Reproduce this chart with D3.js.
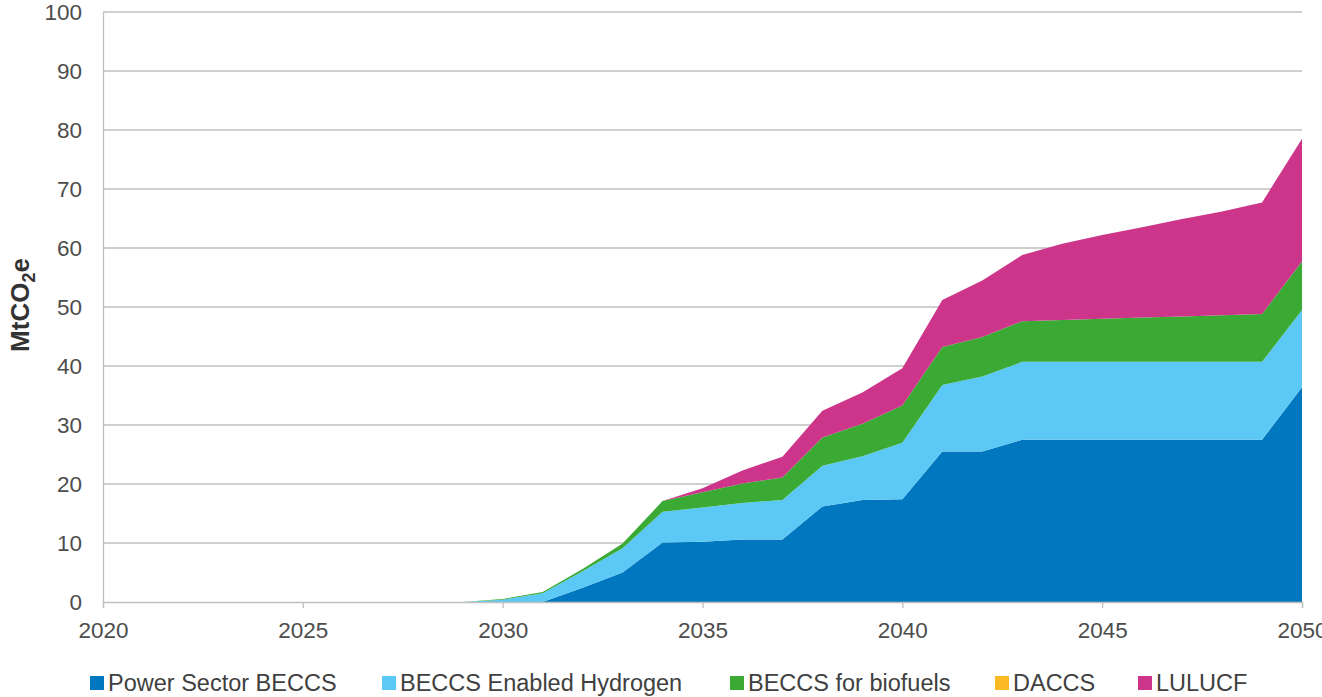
<!DOCTYPE html>
<html>
<head>
<meta charset="utf-8">
<script src="https://cdn.jsdelivr.net/npm/d3@7"></script>
<style>
  html, body { margin: 0; padding: 0; background: #fff; overflow: hidden; }
  svg { display: block; font-family: "Liberation Sans", Arial, sans-serif; }
</style>
</head>
<body>
<svg id="chart" width="1322" height="697"></svg>
<script>
// Years 2020–2050
const years = d3.range(2020, 2051);

// Annual removals by source, MtCO2e (2020 … 2050)
const powerBECCS = [0,0,0,0,0,0,0,0,0,0, 0,0,2.4,5.0,10.1,10.2,10.6,10.6,16.2,17.3, 17.4,25.5,25.5,27.5,27.5,27.5,27.5,27.5,27.5,27.5, 36.4];
const hydrogenBECCS = [0,0,0,0,0,0,0,0,0,0, 0.4,1.5,2.8,4.1,5.2,5.8,6.2,6.7,6.9,7.4, 9.6,11.3,12.7,13.2,13.2,13.2,13.2,13.2,13.2,13.2, 13.1];
const biofuelsBECCS = [0,0,0,0,0,0,0,0,0,0, 0.1,0.2,0.4,0.8,1.8,2.6,3.3,3.8,4.8,5.5, 6.3,6.4,6.7,6.9,7.1,7.3,7.5,7.7,7.9,8.1, 8.2];
const daccs = [0,0,0,0,0,0,0,0,0,0, 0,0,0,0,0,0,0,0,0,0, 0,0,0,0,0,0,0,0,0,0, 0];
const lulucf = [0,0,0,0,0,0,0,0,0,0, 0,0,0,0,0,0.7,2.2,3.5,4.5,5.3, 6.3,8.0,9.6,11.2,12.9,14.2,15.3,16.5,17.6,18.9, 20.8];

const seriesNames = ["Power Sector BECCS", "BECCS Enabled Hydrogen", "BECCS for biofuels", "DACCS", "LULUCF"];
const seriesValues = [powerBECCS, hydrogenBECCS, biofuelsBECCS, daccs, lulucf];
const seriesColors = ["#0077be", "#5bc8f5", "#3aaa35", "#fbb923", "#cc3589"];

const yTicks = [0, 10, 20, 30, 40, 50, 60, 70, 80, 90, 100];
const xTicks = [2020, 2025, 2030, 2035, 2040, 2045, 2050];

const svg = d3.select("#chart");
const plot = { left: 103, right: 1302, top: 12, bottom: 602 };

const x = d3.scaleLinear().domain([2020, 2050]).range([plot.left, plot.right]);
const y = d3.scaleLinear().domain([0, 100]).range([plot.bottom, plot.top]);

const textColor = "#4d4d4d";
const gridColor = "#bfbfbf";
const tickFont = "22.5px";

// Horizontal gridlines
svg.append("g")
  .selectAll("line")
  .data(yTicks.filter(d => d > 0))
  .join("line")
  .attr("x1", plot.left).attr("x2", plot.right)
  .attr("y1", d => y(d)).attr("y2", d => y(d))
  .attr("stroke", gridColor).attr("stroke-width", 1.3);

// Stacked areas
const rows = years.map((yr, i) => {
  const r = { year: yr };
  seriesNames.forEach((n, k) => { r[n] = seriesValues[k][i]; });
  return r;
});
const stack = d3.stack().keys(seriesNames);
const layers = stack(rows);

const area = d3.area()
  .x(d => x(d.data.year))
  .y0(d => y(d[0]))
  .y1(d => y(d[1]));

svg.append("g")
  .selectAll("path")
  .data(layers)
  .join("path")
  .attr("d", area)
  .attr("fill", (d, i) => seriesColors[i]);

// Y axis
const yAxis = svg.append("g")
  .attr("transform", `translate(${plot.left},0)`)
  .call(d3.axisLeft(y).tickValues(yTicks).tickSize(0).tickPadding(21));
yAxis.select(".domain").attr("stroke", gridColor).attr("stroke-width", 1.3);
yAxis.selectAll("text").attr("fill", textColor).style("font-size", tickFont);

// X axis
const xAxis = svg.append("g")
  .attr("transform", `translate(0,${plot.bottom})`)
  .call(d3.axisBottom(x).tickValues(xTicks).tickFormat(d3.format("d")).tickSize(6).tickPadding(14));
xAxis.select(".domain").attr("stroke", gridColor).attr("stroke-width", 1.3);
xAxis.selectAll(".tick line").attr("stroke", gridColor).attr("stroke-width", 1.3);
xAxis.selectAll("text").attr("fill", textColor).style("font-size", tickFont);

// Y axis title
const yTitle = svg.append("text")
  .attr("transform", "translate(29,305) rotate(-90)")
  .attr("text-anchor", "middle")
  .attr("fill", "#333333")
  .style("font-size", "26px")
  .style("font-weight", "bold");
yTitle.append("tspan").text("MtCO");
yTitle.append("tspan").attr("dy", 6).style("font-size", "18px").text("2");
yTitle.append("tspan").attr("dy", -6).text("e");

// Legend
const legendX = [90, 382, 730, 995, 1138];
const legend = svg.append("g");
seriesNames.forEach((name, i) => {
  const g = legend.append("g").attr("transform", `translate(${legendX[i]},0)`);
  g.append("rect")
    .attr("x", 0).attr("y", 676).attr("width", 14).attr("height", 14)
    .attr("fill", seriesColors[i]);
  g.append("text")
    .attr("x", 18).attr("y", 691)
    .attr("fill", "#404040")
    .style("font-size", "23.5px")
    .text(name);
});
</script>
</body>
</html>
